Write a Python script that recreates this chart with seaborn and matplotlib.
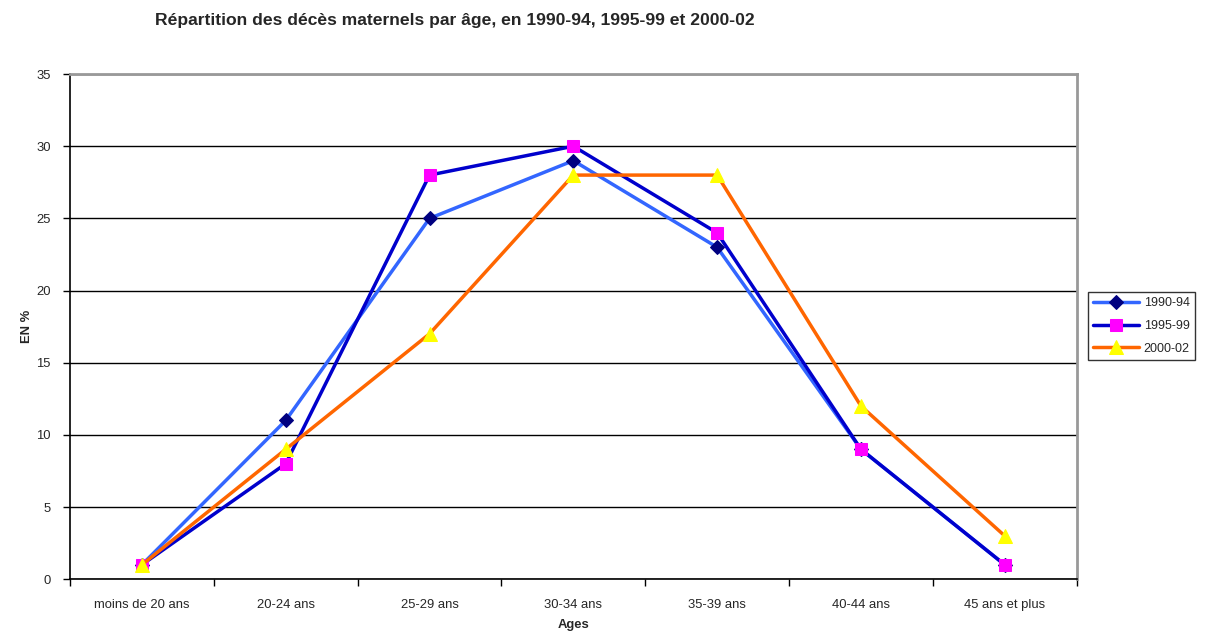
import numpy as np
import pandas as pd
import matplotlib
matplotlib.use("Agg")
import matplotlib.pyplot as plt
import seaborn as sns

# Données (en %)
ages = ["moins de 20 ans", "20-24 ans", "25-29 ans", "30-34 ans",
        "35-39 ans", "40-44 ans", "45 ans et plus"]
v_1990_94 = [1, 11, 25, 29, 23, 9, 1]
v_1995_99 = [1, 8, 28, 30, 24, 9, 1]
v_2000_02 = [1, 9, 17, 28, 28, 12, 3]

sns.set_style("white")
plt.rcParams['font.family'] = ['Liberation Sans', 'DejaVu Sans']

fig = plt.figure(figsize=(12.07, 6.33), dpi=100)
ax = fig.add_axes([0.058, 0.085, 0.834, 0.798])

x = np.arange(len(ages))
series = [
    ("1990-94", v_1990_94, "#3366FF", "D", "#000080", 7),
    ("1995-99", v_1995_99, "#0000CC", "s", "#FF00FF", 8),
    ("2000-02", v_2000_02, "#FF6600", "^", "#FFFF00", 10),
]
for name, vals, lc, mk, mc, ms in series:
    sns.lineplot(x=x, y=vals, ax=ax, color=lc, lw=2.5, marker=mk,
                 markerfacecolor=mc, markeredgecolor=mc, markersize=ms,
                 label=name)

ax.set_xlim(-0.5, len(ages) - 0.5)
ax.set_ylim(0, 35)
ax.set_yticks(range(0, 36, 5))
ax.set_xticks(np.arange(-0.5, len(ages), 1.0))
ax.set_xticklabels([])
ax.set_xticks(x, minor=True)
ax.set_xticklabels(ages, minor=True)
ax.tick_params(axis='x', which='minor', length=0, pad=14, labelsize=9.4)
ax.tick_params(axis='x', which='major', length=5, width=1, direction='out', color='black')
ax.tick_params(axis='y', length=5, width=1, direction='out', color='black', labelsize=9.4, pad=9)
ax.xaxis.set_ticks_position('bottom')
ax.yaxis.set_ticks_position('left')

ax.yaxis.grid(True, color='black', lw=1)
ax.set_axisbelow(True)
for s in ['left', 'bottom']:
    ax.spines[s].set_color('black')
    ax.spines[s].set_linewidth(1.2)
for s in ['top', 'right']:
    ax.spines[s].set_color('#999999')
    ax.spines[s].set_linewidth(2)

ax.set_xlabel("Ages", fontsize=9.4, fontweight='bold', labelpad=6)
ax.set_ylabel("EN %", fontsize=9.4, fontweight='bold', labelpad=2)

fig.text(0.377, 0.968, "Répartition des décès maternels par âge, en 1990-94, 1995-99 et 2000-02",
         ha='center', va='center', fontsize=12.6, fontweight='bold')

leg = ax.legend(loc='center left', bbox_to_anchor=(0.901, 0.485), bbox_transform=fig.transFigure,
                fontsize=9, frameon=True, fancybox=False, edgecolor='black',
                borderpad=0.4, labelspacing=0.85, handlelength=3.7, handletextpad=0.4,
                borderaxespad=0)
leg.get_frame().set_linewidth(1)

fig.savefig("out.png", dpi=100)
